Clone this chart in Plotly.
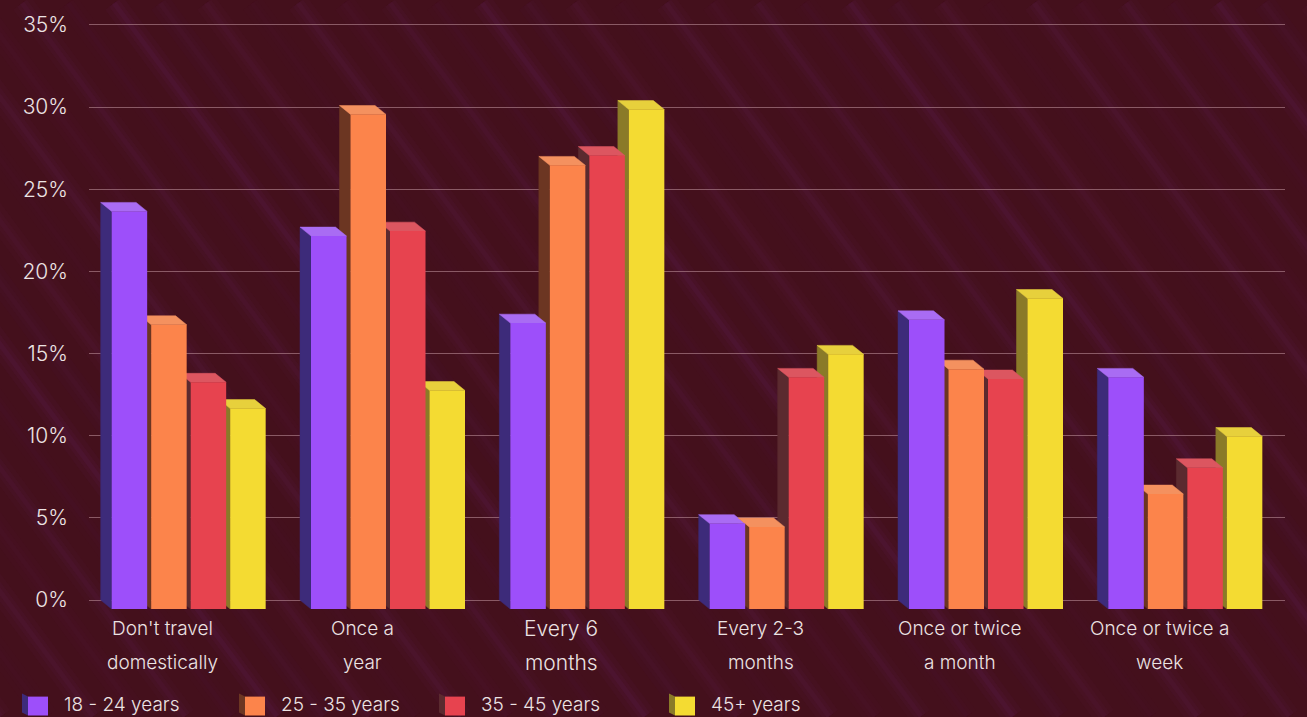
import plotly.graph_objects as go

# ---- data -------------------------------------------------------------
categories = [
    "Don't travel<br>domestically",
    "Once a<br>year",
    "Every 6<br>months",
    "Every 2-3<br>months",
    "Once or twice<br>a month",
    "Once or twice a<br>week",
]
series_names = ["18 - 24 years", "25 - 35 years", "35 - 45 years", "45+ years"]
age_18_24 = [24.2, 22.7, 17.4, 5.2, 17.6, 14.1]
age_25_35 = [17.3, 30.1, 27.0, 5.0, 14.6, 7.0]
age_35_45 = [13.8, 23.0, 27.6, 14.1, 14.0, 8.6]
age_45_plus = [12.2, 13.3, 30.4, 15.5, 18.9, 10.5]
y_ticks = [0, 5, 10, 15, 20, 25, 30, 35]
y_tick_text = [f"{t}%" for t in y_ticks]

series_values = [age_18_24, age_25_35, age_35_45, age_45_plus]

# ---- styling ----------------------------------------------------------
FRONT = ["#9d4ffa", "#fc844b", "#e7434f", "#f4db32"]
SIDE = ["#3d2b7a", "#6c3622", "#5b2a2f", "#8a7a28"]
TOP = ["#a96cf3", "#f4915f", "#dc5660", "#e7d03c"]
BG = "#44101c"
TEXT = "#ece3e3"
FONT = "Inter"
WEIGHT = 300

W, H = 1307, 717
PLOT_L, PLOT_R = 89, 1285
PLOT_T, PLOT_B = 12, 617
ZERO_PX, TOP_PX, TOP_VAL = 600, 22, 35
PPU_Y = (ZERO_PX - TOP_PX) / TOP_VAL
PPU_X = (PLOT_R - PLOT_L) / len(categories)
YMIN = -(PLOT_B - ZERO_PX) / PPU_Y
YMAX = (ZERO_PX - PLOT_T) / PPU_Y

# depth of the pseudo-3D boxes (back face sits up and to the left)
DEPTH_X = 11 / PPU_X
DEPTH_Y = 9 / PPU_Y
BAR_W = 35.5 / PPU_X
BAR_PITCH = 39.5 / PPU_X


def fx(px):
    return (px - PLOT_L) / (PLOT_R - PLOT_L)


def fy(py):
    return (PLOT_B - py) / (PLOT_B - PLOT_T)


centers = [i + 0.5 for i in range(len(categories))]
n_series = len(series_values)
offsets = [(k - (n_series - 1) / 2) * BAR_PITCH - BAR_W / 2 for k in range(n_series)]

fig = go.Figure()

# side and top faces on the base axes
side_traces, top_traces = [], []
for k, vals in enumerate(series_values):
    sx, sy, tx, ty = [], [], [], []
    for c, v in zip(centers, vals):
        xl = c + offsets[k]
        xr = xl + BAR_W
        sx += [xl, xl, xl - DEPTH_X, xl - DEPTH_X, xl, None]
        sy += [-DEPTH_Y, v - DEPTH_Y, v, 0, -DEPTH_Y, None]
        tx += [xl, xr, xr - DEPTH_X, xl - DEPTH_X, xl, None]
        ty += [v - DEPTH_Y, v - DEPTH_Y, v, v, v - DEPTH_Y, None]
    side_traces.append(go.Scatter(x=sx, y=sy, mode="lines", fill="toself",
                                  fillcolor=SIDE[k], line=dict(width=0.5, color=SIDE[k]),
                                  hoverinfo="skip", showlegend=False))
    top_traces.append(go.Scatter(x=tx, y=ty, mode="lines", fill="toself",
                                 fillcolor=TOP[k], line=dict(width=0.5, color=TOP[k]),
                                 hoverinfo="skip", showlegend=False))
for t in side_traces + top_traces:
    fig.add_trace(t)

# front faces as bars on an overlaid axis pair so they paint above the depth faces
for k, vals in enumerate(series_values):
    fig.add_trace(go.Bar(
        x=centers, y=vals, base=[-DEPTH_Y] * len(vals),
        width=BAR_W, offset=offsets[k],
        marker=dict(color=FRONT[k], line=dict(width=0)),
        name=series_names[k], xaxis="x2", yaxis="y2",
        showlegend=False,
        hovertemplate=series_names[k] + ": %{y}%<extra></extra>",
    ))

# soft diagonal background stripes
shapes = []
slope = 1.35
alphas = [0.08, 0.14, 0.05, 0.17, 0.09, 0.12, 0.04, 0.15]
for i, x0 in enumerate(range(-760, 1400, 46)):
    a = alphas[i % len(alphas)]
    x1 = x0 + H / slope
    for wdt, mult in ((22, 0.35), (12, 0.45), (5, 0.6)):
        shapes.append(dict(type="line", xref="paper", yref="paper", layer="below",
                           x0=fx(x0), y0=fy(0), x1=fx(x1), y1=fy(H),
                           line=dict(color=f"rgba(110,40,115,{a * mult:.3f})", width=wdt)))

# legend swatches
LEG_X = [22, 239, 439, 669]
LEG_Y = 705
for k in range(n_series):
    x = LEG_X[k]
    shapes.append(dict(type="path", xref="paper", yref="paper",
                       path=f"M {fx(x)},{fy(LEG_Y - 11)} L {fx(x + 6)},{fy(LEG_Y - 8)} "
                            f"L {fx(x + 6)},{fy(LEG_Y + 11)} L {fx(x)},{fy(LEG_Y + 8)} Z",
                       fillcolor=SIDE[k], line=dict(width=0)))
    shapes.append(dict(type="rect", xref="paper", yref="paper",
                       x0=fx(x + 6), x1=fx(x + 26), y0=fy(LEG_Y - 8), y1=fy(LEG_Y + 11),
                       fillcolor=FRONT[k], line=dict(width=0)))

annotations = []
for k, name in enumerate(series_names):
    annotations.append(dict(xref="paper", yref="paper", x=fx(LEG_X[k] + 40), y=fy(LEG_Y),
                            xanchor="left", yanchor="middle", showarrow=False, text=name,
                            font=dict(family=FONT, size=19, color=TEXT, weight=WEIGHT)))

# category labels, one annotation per line for wide line spacing
LABEL_SHIFT = 26 / PPU_X
label_sizes = [19, 19, 21, 19, 19, 19]
for c, label, size in zip(centers, categories, label_sizes):
    for j, line in enumerate(label.split("<br>")):
        annotations.append(dict(xref="x", yref="paper", x=c - LABEL_SHIFT, y=fy(629 + 34 * j),
                                xanchor="center", yanchor="middle", showarrow=False, text=line,
                                font=dict(family=FONT, size=size, color=TEXT, weight=WEIGHT)))

fig.update_layout(
    width=W, height=H,
    margin=dict(l=PLOT_L, r=W - PLOT_R, t=PLOT_T, b=H - PLOT_B, pad=0),
    paper_bgcolor=BG, plot_bgcolor="rgba(0,0,0,0)",
    barmode="overlay",
    showlegend=False,
    shapes=shapes,
    annotations=annotations,
    xaxis=dict(range=[0, len(categories)], showgrid=False, zeroline=False,
               showticklabels=False, showline=False, fixedrange=True),
    yaxis=dict(range=[YMIN, YMAX], tickvals=y_ticks, ticktext=y_tick_text,
               showgrid=True, gridcolor="rgba(185,140,150,0.6)", gridwidth=1,
               zeroline=False, showline=False, ticks="", ticklabelstandoff=20,
               tickfont=dict(family=FONT, size=21, color=TEXT, weight=WEIGHT), fixedrange=True),
    xaxis2=dict(range=[0, len(categories)], overlaying="x", visible=False, fixedrange=True),
    yaxis2=dict(range=[YMIN, YMAX], overlaying="y", visible=False, fixedrange=True),
)

fig.write_html("out.html")
